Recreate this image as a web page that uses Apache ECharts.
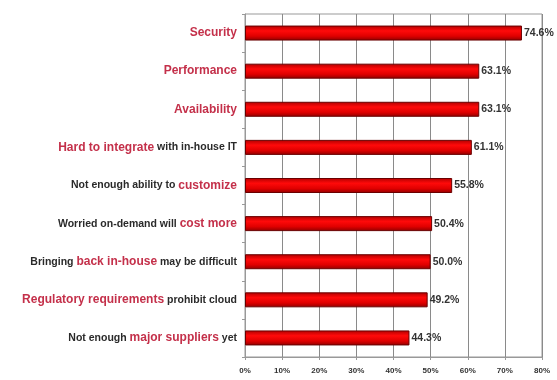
<!DOCTYPE html>
<html>
<head>
<meta charset="utf-8">
<script src="https://cdn.jsdelivr.net/npm/echarts@6/dist/echarts.min.js"></script>
<style>
  html, body { margin: 0; padding: 0; background: #fff; }
  #chart { width: 557px; height: 380px; }
</style>
</head>
<body>
<div id="chart"></div>
<script>
// categories, top to bottom
var categories = [
  'Security',
  'Performance',
  'Availability',
  'Hard to integrate with in-house IT',
  'Not enough ability to customize',
  'Worried on-demand will cost more',
  'Bringing back in-house may be difficult',
  'Regulatory requirements prohibit cloud',
  'Not enough major suppliers yet'
]
// the part of each label drawn in red
var highlights = [
  'Security',
  'Performance',
  'Availability',
  'Hard to integrate',
  'customize',
  'cost more',
  'back in-house',
  'Regulatory requirements',
  'major suppliers'
]
var values = [74.6, 63.1, 63.1, 61.1, 55.8, 50.4, 50.0, 49.2, 44.3]
var tickLabels = ['0%', '10%', '20%', '30%', '40%', '50%', '60%', '70%', '80%']

function richLabel (name) {
  var i = categories.indexOf(name)
  var h = highlights[i]
  var p = name.indexOf(h)
  var out = ''
  if (p > 0) out += '{d|' + name.slice(0, p) + '}'
  out += '{r|' + h + '}'
  if (p + h.length < name.length) out += '{d|' + name.slice(p + h.length) + '}'
  return out
}

var chart = echarts.init(document.getElementById('chart'))
chart.setOption({
  animation: false,
  grid: {
    left: 245,
    right: 15,
    top: 14,
    bottom: 23,
    show: true,
    borderColor: '#999',
    borderWidth: 1
  },
  xAxis: {
    type: 'value',
    min: 0,
    max: 80,
    interval: 10,
    axisLine: { show: true, lineStyle: { color: '#999' } },
    axisTick: { show: true, length: 3, lineStyle: { color: '#999' } },
    axisLabel: {
      color: '#333',
      fontSize: 8,
      fontWeight: 'bold',
      fontFamily: 'Liberation Sans',
      margin: 10,
      formatter: function (v) { return tickLabels[v / 10] }
    },
    splitLine: { show: true, lineStyle: { color: '#8a8a8a', width: 1 } }
  },
  yAxis: {
    type: 'category',
    inverse: true,
    data: categories,
    axisLine: { show: true, lineStyle: { color: '#999' } },
    axisTick: { show: true, length: 3, lineStyle: { color: '#999' } },
    axisLabel: {
      margin: 8,
      formatter: richLabel,
      rich: {
        d: {
          color: '#2a2a2a',
          fontSize: 10.5,
          fontWeight: 'bold',
          fontFamily: 'Liberation Sans'
        },
        r: {
          color: '#c4304a',
          fontSize: 12,
          fontWeight: 'bold',
          fontFamily: 'Liberation Sans'
        }
      }
    }
  },
  series: [
    {
      type: 'bar',
      data: values,
      barWidth: 15,
      itemStyle: {
        color: new echarts.graphic.LinearGradient(0, 0, 0, 1, [
          { offset: 0, color: '#b00000' },
          { offset: 0.35, color: '#ff0a0a' },
          { offset: 0.7, color: '#e00000' },
          { offset: 1, color: '#900000' }
        ]),
        borderColor: '#6a0000',
        borderWidth: 1
      },
      label: {
        show: true,
        position: 'right',
        distance: 2,
        color: '#333',
        fontSize: 10.5,
        fontWeight: 'bold',
        fontFamily: 'Liberation Sans',
        formatter: function (p) { return p.value.toFixed(1) + '%' }
      }
    }
  ]
})
</script>
</body>
</html>
